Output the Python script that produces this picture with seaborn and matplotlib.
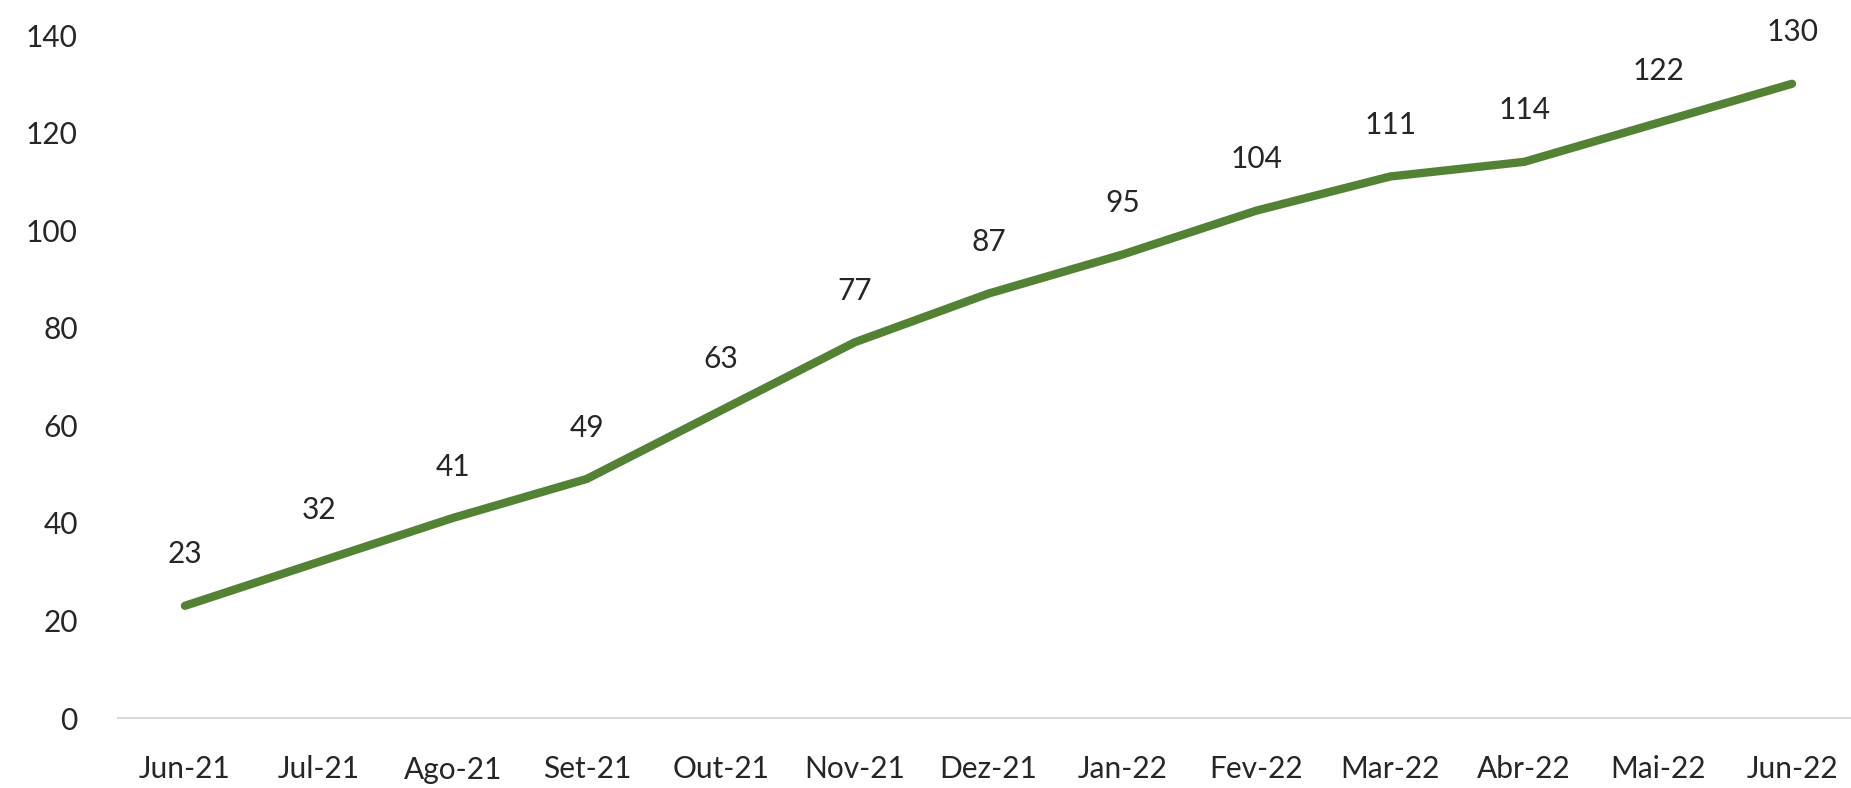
import matplotlib
matplotlib.use("Agg")
import matplotlib.pyplot as plt
import numpy as np
import pandas as pd
import seaborn as sns

# Data
months = ["Jun-21", "Jul-21", "Ago-21", "Set-21", "Out-21", "Nov-21", "Dez-21",
          "Jan-22", "Fev-22", "Mar-22", "Abr-22", "Mai-22", "Jun-22"]
values = [23, 32, 41, 49, 63, 77, 87, 95, 104, 111, 114, 122, 130]
y_ticks = [0, 20, 40, 60, 80, 100, 120, 140]

LINE_COLOR = "#548235"
TEXT_COLOR = "#262626"
FONT_SIZE = 21.5

sns.set_style("white")
plt.rcParams["font.family"] = ["Lato", "DejaVu Sans"]

df = pd.DataFrame({"pos": np.arange(len(months)), "month": months, "value": values})

fig = plt.figure(figsize=(18.51, 7.88), dpi=100)
ax = fig.add_axes([118 / 1851, 1 - 718 / 788, (1859 - 118) / 1851, (718 - 35) / 788])

sns.lineplot(data=df, x="pos", y="value", ax=ax, color=LINE_COLOR,
             linewidth=6, solid_capstyle="round")

# Data labels above each point
for x, v in zip(df["pos"], df["value"]):
    ax.annotate(str(v), (x, v), xytext=(0, 37), textcoords="offset points",
                ha="center", va="center", fontsize=FONT_SIZE, color=TEXT_COLOR)

ax.set_xlim(-0.5, len(months) - 0.5)
ax.set_ylim(0, 140)
ax.set_xticks(df["pos"])
ax.set_xticklabels(months)
ax.set_yticks(y_ticks)
ax.tick_params(axis="both", length=0, labelsize=FONT_SIZE, colors=TEXT_COLOR)
ax.tick_params(axis="x", pad=27)
ax.tick_params(axis="y", pad=29)
ax.set_xlabel("")
ax.set_ylabel("")

sns.despine(ax=ax, left=True, top=True, right=True)
ax.spines["bottom"].set_color("#d9d9d9")
ax.spines["bottom"].set_linewidth(1.5)
ax.set_facecolor("white")
fig.patch.set_facecolor("white")

fig.savefig("out.png", dpi=100)
plt.close(fig)
